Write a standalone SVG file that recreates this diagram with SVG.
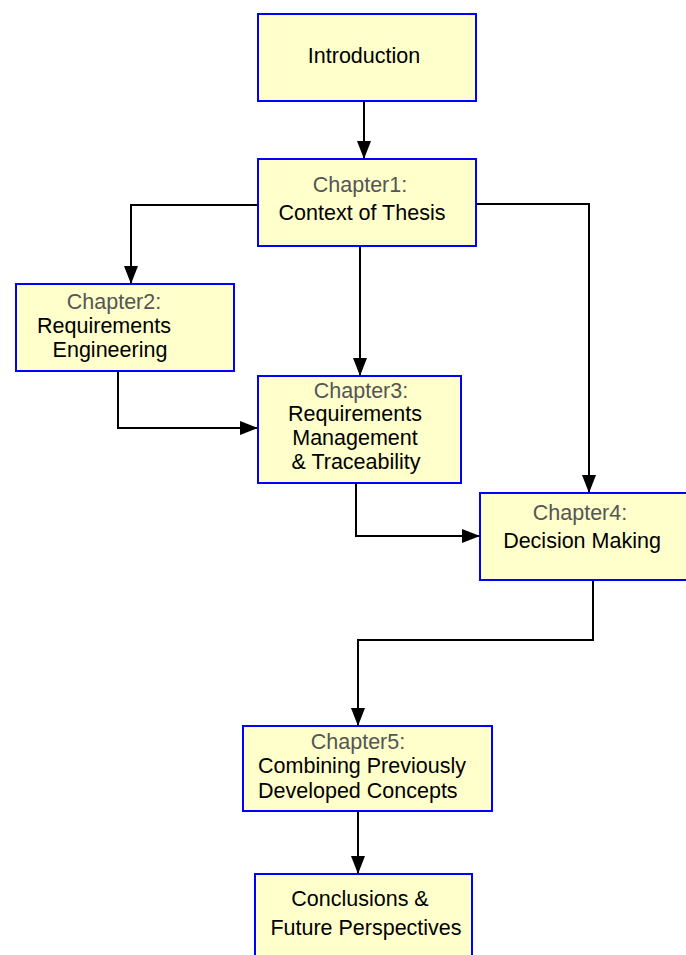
<svg xmlns="http://www.w3.org/2000/svg" width="686" height="955" viewBox="0 0 686 955">
<style>
.box{fill:#ffffcc;stroke:#0000ff;stroke-width:2}
text{font-family:"Liberation Sans",Arial,sans-serif;font-size:21.5px;fill:#000}
.g{fill:#555555}
.c{text-anchor:middle}
.e{fill:none;stroke:#000;stroke-width:2}
</style>
<defs>
<marker id="ah" markerWidth="18" markerHeight="14" refX="18" refY="7" viewBox="0 0 18 14" markerUnits="userSpaceOnUse" orient="auto">
<path d="M0,0 L18,7 L0,14 Z" fill="#000"/>
</marker>
</defs>
<g id="connectors">
<path class="e" d="M364,101 V159" marker-end="url(#ah)"/>
<path class="e" d="M258,205 H131 V284" marker-end="url(#ah)"/>
<path class="e" d="M360,246 V376" marker-end="url(#ah)"/>
<path class="e" d="M476,204 H589 V493" marker-end="url(#ah)"/>
<path class="e" d="M118,371 V428 H258" marker-end="url(#ah)"/>
<path class="e" d="M356,483 V536 H480" marker-end="url(#ah)"/>
<path class="e" d="M593,580 V640 H358 V726" marker-end="url(#ah)"/>
<path class="e" d="M358,811 V874" marker-end="url(#ah)"/>
</g>
<g id="intro">
<rect class="box" x="258" y="14" width="218" height="87"/>
<text class="c" x="364" y="63">Introduction</text>
</g>
<g id="ch1">
<rect class="box" x="258" y="159" width="218" height="87"/>
<text class="c g" x="360" y="192">Chapter1:</text>
<text class="c" x="362" y="220">Context of Thesis</text>
</g>
<g id="ch2">
<rect class="box" x="16" y="284" width="218" height="87"/>
<text class="c g" x="114" y="309">Chapter2:</text>
<text class="c" x="104" y="333">Requirements</text>
<text class="c" x="110" y="357">Engineering</text>
</g>
<g id="ch3">
<rect class="box" x="258" y="376" width="203" height="107"/>
<text class="c g" x="361" y="398">Chapter3:</text>
<text class="c" x="355" y="421">Requirements</text>
<text class="c" x="355" y="445">Management</text>
<text class="c" x="356" y="469">&amp; Traceability</text>
</g>
<g id="ch4">
<rect class="box" x="480" y="493" width="210" height="87"/>
<text class="c g" x="580" y="520">Chapter4:</text>
<text class="c" x="582" y="548">Decision Making</text>
</g>
<g id="ch5">
<rect class="box" x="243" y="726" width="249" height="85"/>
<text class="c g" x="358" y="749">Chapter5:</text>
<text class="c" x="362" y="773">Combining Previously</text>
<text x="258" y="798">Developed Concepts</text>
</g>
<g id="concl">
<rect class="box" x="255" y="874" width="217" height="90"/>
<text class="c" x="360" y="906">Conclusions &amp;</text>
<text class="c" x="366" y="935">Future Perspectives</text>
</g>
</svg>
